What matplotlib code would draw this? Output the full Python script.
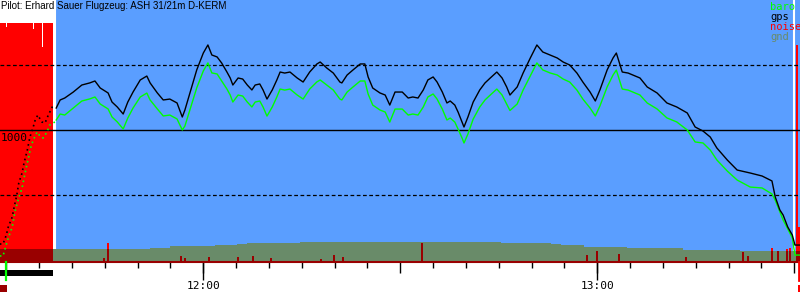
import numpy as np
import matplotlib.pyplot as plt
from matplotlib.ticker import MultipleLocator, NullFormatter
import matplotlib.transforms as mtransforms

# time in minutes after midnight, heights in metres
climb_t = [689.0, 689.5, 690.0, 690.3, 690.9, 691.2, 691.6, 691.9, 692.4, 692.7,
           693.2, 693.6, 694.1, 694.4, 694.8, 695.4, 695.9, 696.4, 697.0, 697.4]
climb_gps = [123, 123, 192, 254, 331, 408, 500, 592, 669, 746,
             846, 946, 1023, 1077, 1115, 1062, 1054, 1115, 1177, 1192]
climb_baro_t = [689.0, 689.5, 690.2, 690.9, 691.3, 691.8, 692.4, 692.8, 693.3,
                693.7, 694.1, 694.7, 695.0, 695.6, 696.2, 696.6, 697.4]
climb_baro = [31, 31, 154, 254, 369, 462, 554, 654, 769,
              862, 923, 985, 962, 938, 985, 1038, 1062]

flight_t = [697.6, 698.2, 698.9, 700.2, 701.5, 702.7, 703.5, 704.3, 705.5, 706.1,
            706.9, 707.8, 708.5, 709.3, 710.4, 711.4, 711.9, 713.0, 713.9, 714.9,
            716.0, 716.8, 717.2, 718.0, 719.0, 720.0, 720.7, 721.3, 722.1, 722.8,
            723.6, 724.1, 724.5, 725.3, 726.0, 726.7, 727.4, 727.9, 728.6, 729.1,
            729.7, 730.5, 731.2, 731.7, 732.4, 733.2, 734.3, 735.2, 736.2, 737.3,
            737.8, 738.8, 739.8, 740.8, 741.1, 741.9, 742.8, 743.9, 744.6, 745.1,
            745.8, 746.9, 747.7, 748.4, 749.2, 750.3, 751.2, 751.9, 752.7, 753.5,
            754.2, 755.0, 755.6, 756.4, 757.1, 757.6, 758.3, 758.8, 759.4, 759.7,
            760.3, 761.1, 762.1, 762.9, 763.7, 764.7, 765.5, 766.2, 766.7, 767.8,
            768.7, 769.8, 770.8, 771.7, 772.8, 773.9, 774.8, 775.8, 776.9, 777.8,
            778.9, 779.7, 780.4, 781.5, 782.4, 782.9, 783.8, 784.7, 786.5, 787.6,
            789.1, 790.6, 792.1, 793.7, 794.9, 796.1, 797.2, 798.2, 799.8, 801.3,
            803.3, 805.1, 806.6, 807.1, 807.8, 808.3, 809.0, 809.7, 810.1, 810.9]
flight_gps = [1169, 1231, 1246, 1292, 1346, 1362, 1377, 1323, 1285, 1215,
              1177, 1123, 1215, 1292, 1385, 1415, 1362, 1285, 1231, 1238,
              1208, 1100, 1154, 1292, 1462, 1592, 1654, 1577, 1562, 1515,
              1446, 1400, 1346, 1400, 1392, 1346, 1308, 1346, 1354, 1308,
              1238, 1308, 1385, 1446, 1438, 1446, 1400, 1369, 1446, 1508,
              1523, 1477, 1438, 1369, 1362, 1423, 1462, 1508, 1508, 1408,
              1323, 1285, 1269, 1192, 1292, 1292, 1246, 1254, 1246, 1308,
              1385, 1408, 1369, 1292, 1208, 1223, 1192, 1138, 1062, 1023,
              1100, 1215, 1308, 1362, 1400, 1446, 1400, 1331, 1269, 1331,
              1438, 1554, 1654, 1600, 1577, 1554, 1523, 1500, 1438, 1369,
              1292, 1223, 1308, 1462, 1554, 1592, 1446, 1438, 1400, 1331,
              1285, 1208, 1177, 1131, 1023, 992, 946, 862, 769, 692,
              669, 646, 608, 485, 385, 346, 254, 192, 115, 115]
flight_baro = [1077, 1123, 1115, 1169, 1223, 1239, 1254, 1200, 1162, 1100,
               1062, 1008, 1092, 1169, 1254, 1284, 1231, 1162, 1108, 1115,
               1085, 1000, 1031, 1161, 1324, 1454, 1516, 1439, 1431, 1377,
               1315, 1269, 1215, 1269, 1261, 1215, 1177, 1215, 1223, 1177,
               1107, 1177, 1254, 1315, 1307, 1315, 1269, 1238, 1315, 1370,
               1385, 1346, 1307, 1238, 1231, 1292, 1331, 1377, 1377, 1277,
               1192, 1154, 1138, 1061, 1161, 1161, 1115, 1123, 1115, 1177,
               1254, 1277, 1238, 1161, 1077, 1092, 1061, 1007, 939, 900,
               969, 1084, 1177, 1231, 1269, 1315, 1269, 1200, 1150, 1200,
               1307, 1416, 1516, 1462, 1439, 1423, 1392, 1369, 1307, 1238,
               1169, 1108, 1185, 1331, 1423, 1461, 1315, 1307, 1269, 1208,
               1162, 1093, 1062, 1000, 908, 900, 846, 770, 684, 615,
               561, 554, 508, 460, 370, 308, 240, 170, 38, 38]

gnd_t = [689.0, 697.6, 704.3, 711.9, 714.9, 721.8, 725.1, 726.7, 734.8, 742.4,
         750.0, 757.6, 765.3, 772.9, 774.4, 777.9, 784.6, 793.1, 801.7, 808.3, 810.9]
gnd_alt = [85, 85, 88, 90, 108, 115, 123, 133, 140, 140,
           138, 135, 130, 123, 115, 103, 90, 80, 72, 70, 70]

# engine noise, per mille
engine_t = [689.0, 689.9, 690.05, 694.1, 694.25, 695.5, 695.65, 697.1]
engine_v = [1000, 982, 1000, 974, 1000, 899, 1000, 0]
spike_t = [704.7, 705.3, 716.5, 717.0, 720.7, 725.1, 727.4, 730.2, 737.8, 739.8,
           741.1, 753.1, 778.3, 779.8, 783.2, 793.4, 802.1, 802.8, 806.5, 807.4,
           808.8, 809.2, 810.2, 810.6]
spike_v = [16, 79, 25, 16, 21, 21, 25, 16, 12, 29,
           21, 79, 29, 46, 33, 21, 42, 25, 58, 46,
           54, 58, 907, 146]

release_t = 697.6
gap_t = [697.35, 809.9]
takeoff_t = 690.0
landing_t = 810.65

BLUE = '#5a9eff'
GND = '#698b69'
DARKRED = '#990000'
MONO = 'DejaVu Sans Mono'

fig = plt.figure(figsize=(8, 3), dpi=100)
ax = fig.add_axes([0, 38 / 300, 1, 262 / 300])
ax.set_xlim(689.04, 810.87)
ax.set_ylim(-15.4, 2000)
base = -15.4
k = 1.84

ax.axvspan(release_t, 812, color=BLUE, lw=0, zorder=0)
ax.fill_between(gnd_t, base, gnd_alt, step='post', color=GND, lw=0, zorder=1)

# noise: red, dark red below ground level
eng_top = base + np.array(engine_v) * k
ax.fill_between(engine_t, base, eng_top, step='post', color='red', lw=0, zorder=2)
eng_low = np.minimum(eng_top, np.interp(engine_t, gnd_t, gnd_alt))
ax.fill_between(engine_t, base, eng_low, step='post', color=DARKRED, lw=0, zorder=3)
sp_top = base + np.array(spike_v) * k
sp_low = np.minimum(sp_top, np.interp(spike_t, gnd_t, gnd_alt))
ax.bar(spike_t, sp_top - base, bottom=base, width=0.3, align='edge',
       color='red', lw=0, zorder=2)
ax.bar(spike_t, sp_low - base, bottom=base, width=0.3, align='edge',
       color=DARKRED, lw=0, zorder=3)

ax.vlines(gap_t, np.interp(gap_t, gnd_t, gnd_alt), 2000, color='white', lw=1.5, zorder=3)

ax.axhline(1000, color='black', lw=1.0, zorder=4)
for h in (500, 1500):
    ax.axhline(h, color='black', lw=0.9, ls=(0, (3, 2)), zorder=4)

ax.plot(climb_baro_t, climb_baro, color='#00ff00', lw=1.2, ls=(0, (1, 2)), zorder=5)
ax.plot(climb_t, climb_gps, color='black', lw=1.2, ls=(0, (1, 2)), zorder=5)
ax.plot(flight_t, flight_baro, color='#00ff00', lw=1.0, zorder=5)
ax.plot(flight_t, flight_gps, color='black', lw=1.0, zorder=5)

ax.text(689.1, 975, '1000', fontsize=8, family=MONO, va='top', ha='left', zorder=6)

# axes and ticks
for s in ('top', 'left', 'right'):
    ax.spines[s].set_visible(False)
ax.spines['bottom'].set_color(DARKRED)
ax.spines['bottom'].set_linewidth(1.5)
ax.set_yticks([])
ax.xaxis.set_major_locator(MultipleLocator(30))
ax.xaxis.set_minor_locator(MultipleLocator(5))
ax.xaxis.set_major_formatter(NullFormatter())
ax.tick_params(axis='x', which='major', length=8, width=1, color='black')
ax.tick_params(axis='x', which='minor', length=4.3, width=1, color='black')

sec = ax.secondary_xaxis('bottom')
sec.set_xticks([720, 780], ['12:00', '13:00'])
sec.spines['bottom'].set_visible(False)
sec.tick_params(length=13, width=1, pad=0.5, labelsize=8)
for lab in sec.get_xticklabels():
    lab.set_family(MONO)

# markers below the axis
below = mtransforms.blended_transform_factory(ax.transData, ax.transAxes)
ax.axvspan(689.0, 697.1, ymin=-14 / 262, ymax=-8 / 262, color='black', lw=0, clip_on=False)
ax.plot([takeoff_t, takeoff_t], [0, -18 / 262], color='#00ff00', lw=1.6,
        transform=below, clip_on=False, zorder=6)
ax.axvspan(689.0, 690.1, ymin=-30 / 262, ymax=-23 / 262, color=DARKRED, lw=0, clip_on=False)
ax.plot([landing_t, landing_t], [0, -18 / 262], color='red', lw=2,
        transform=below, clip_on=False, zorder=6)
ax.axvspan(810.6, 810.9, ymin=-30 / 262, ymax=-23 / 262, color='red', lw=0, clip_on=False)

# header and legend
fig.text(0.001, 0.997, 'Pilot: Erhard Sauer Flugzeug: ASH 31/21m D-KERM',
         fontsize=7, family='Liberation Sans', va='top', ha='left')
for i, (name, col) in enumerate([('baro', '#00ff00'), ('gps', 'black'),
                                 ('noise', 'red'), ('gnd', GND)]):
    fig.text(770 / 800, 1 - (2 + 10 * i) / 300, name, color=col, fontsize=7.5,
             family=MONO, va='top', ha='left')

fig.savefig('out.png', dpi=100)
